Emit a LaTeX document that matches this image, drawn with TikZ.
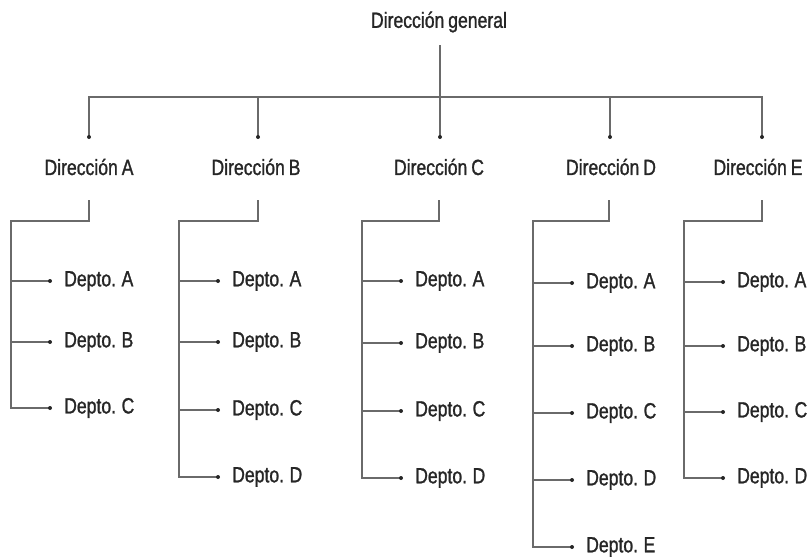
\documentclass[tikz,border=0pt]{standalone}
\usepackage{fontspec}
\setmainfont{Liberation Sans}[FakeStretch=0.8, FakeBold=1.2, WordSpace=0.8]
\usetikzlibrary{positioning}

\definecolor{linegray}{HTML}{6A6A6A}
\definecolor{textgray}{HTML}{262626}

\begin{document}
\begin{tikzpicture}[
  x=1pt, y=-1pt,
  every node/.style={text=textgray, font=\fontsize{22}{26}\selectfont, inner sep=2pt},
  link/.style={draw=linegray, line width=1.3pt},
  depto/.style={anchor=west},
  tip/.style={fill=textgray}
]
\useasboundingbox (0,0) rectangle (812,558);

% Top of the chart
\node (gen) at (439,22) {Dirección general};
\coordinate (gtop) at (440,45);

% Nodes for the five direcciones
\node (dA) at (89,167) {Dirección A};
\node (dB) at (256,167) {Dirección B};
\node (dC) at (439,167) {Dirección C};
\node (dD) at (611,167) {Dirección D};
\node (dE) at (758,167) {Dirección E};

% Dots above each dirección
\coordinate (pA) at (89,137);
\coordinate (pB) at (258,137);
\coordinate (pC) at (440,137);
\coordinate (pD) at (610,137);
\coordinate (pE) at (762,137);
\coordinate (bar) at (440,97);

% Main bar
\draw[link] (gtop) -- (pC);
\draw[link] (pA) |- (bar) -| (pE);
\draw[link] (pB) -- (pB |- bar);
\draw[link] (pD) -- (pD |- bar);
\foreach \p in {pA,pB,pC,pD,pE} \fill[tip] (\p) circle (2);

% Stubs and spine corners
\coordinate (sA) at (89,200);  \coordinate (kA) at (11,221);
\coordinate (sB) at (258,200); \coordinate (kB) at (179,221);
\coordinate (sC) at (439,200); \coordinate (kC) at (362,221);
\coordinate (sD) at (609,200); \coordinate (kD) at (533,221);
\coordinate (sE) at (762,200); \coordinate (kE) at (684,221);

% Dots of the departamentos
\coordinate (A1d) at (50,281);  \coordinate (A2d) at (50,342);  \coordinate (A3d) at (50,408);
\coordinate (B1d) at (218,281); \coordinate (B2d) at (218,342); \coordinate (B3d) at (218,410);
\coordinate (B4d) at (218,477);
\coordinate (C1d) at (401,281); \coordinate (C2d) at (401,343); \coordinate (C3d) at (401,411);
\coordinate (C4d) at (401,478);
\coordinate (D1d) at (572,283); \coordinate (D2d) at (572,346); \coordinate (D3d) at (572,413);
\coordinate (D4d) at (572,480); \coordinate (D5d) at (572,547);
\coordinate (E1d) at (723,282); \coordinate (E2d) at (723,346); \coordinate (E3d) at (723,412);
\coordinate (E4d) at (723,478);

% Nodes for the departamentos
\node[depto, right=12pt of A1d] (A1) {Depto. A};
\node[depto, right=12pt of A2d] (A2) {Depto. B};
\node[depto, right=12pt of A3d] (A3) {Depto. C};
\node[depto, right=12pt of B1d] (B1) {Depto. A};
\node[depto, right=12pt of B2d] (B2) {Depto. B};
\node[depto, right=12pt of B3d] (B3) {Depto. C};
\node[depto, right=12pt of B4d] (B4) {Depto. D};
\node[depto, right=12pt of C1d] (C1) {Depto. A};
\node[depto, right=12pt of C2d] (C2) {Depto. B};
\node[depto, right=12pt of C3d] (C3) {Depto. C};
\node[depto, right=12pt of C4d] (C4) {Depto. D};
\node[depto, right=12pt of D1d] (D1) {Depto. A};
\node[depto, right=12pt of D2d] (D2) {Depto. B};
\node[depto, right=12pt of D3d] (D3) {Depto. C};
\node[depto, right=12pt of D4d] (D4) {Depto. D};
\node[depto, right=12pt of D5d] (D5) {Depto. E};
\node[depto, right=12pt of E1d] (E1) {Depto. A};
\node[depto, right=12pt of E2d] (E2) {Depto. B};
\node[depto, right=12pt of E3d] (E3) {Depto. C};
\node[depto, right=12pt of E4d] (E4) {Depto. D};

% Spines with their branches
\draw[link] (sA) |- (kA) |- (A3d);
\draw[link] (kA |- A1d) -- (A1d);
\draw[link] (kA |- A2d) -- (A2d);

\draw[link] (sB) |- (kB) |- (B4d);
\draw[link] (kB |- B1d) -- (B1d);
\draw[link] (kB |- B2d) -- (B2d);
\draw[link] (kB |- B3d) -- (B3d);

\draw[link] (sC) |- (kC) |- (C4d);
\draw[link] (kC |- C1d) -- (C1d);
\draw[link] (kC |- C2d) -- (C2d);
\draw[link] (kC |- C3d) -- (C3d);

\draw[link] (sD) |- (kD) |- (D5d);
\draw[link] (kD |- D1d) -- (D1d);
\draw[link] (kD |- D2d) -- (D2d);
\draw[link] (kD |- D3d) -- (D3d);
\draw[link] (kD |- D4d) -- (D4d);

\draw[link] (sE) |- (kE) |- (E4d);
\draw[link] (kE |- E1d) -- (E1d);
\draw[link] (kE |- E2d) -- (E2d);
\draw[link] (kE |- E3d) -- (E3d);

% Dots at the branch ends
\foreach \p in {A1d,A2d,A3d,B1d,B2d,B3d,B4d,C1d,C2d,C3d,C4d,D1d,D2d,D3d,D4d,D5d,E1d,E2d,E3d,E4d}
  \fill[tip] (\p) circle (2);

\end{tikzpicture}
\end{document}
